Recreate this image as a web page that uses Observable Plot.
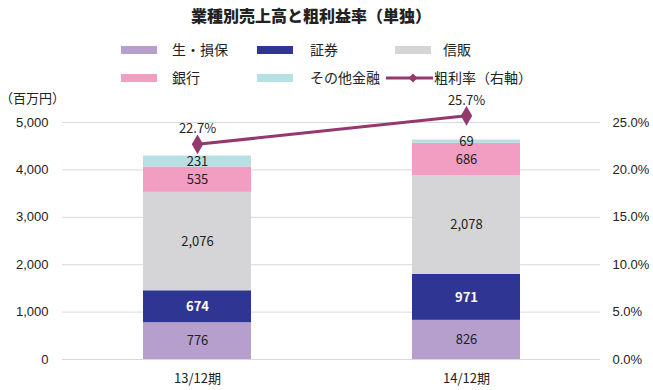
<!DOCTYPE html>
<html>
<head>
<meta charset="utf-8">
<script src="https://cdn.jsdelivr.net/npm/d3@7"></script>
<script src="https://cdn.jsdelivr.net/npm/@observablehq/plot@0.6"></script>
<style>
  html, body { margin: 0; padding: 0; background: #fff; }
  #wrap { position: relative; width: 653px; height: 390px; font-family: "Noto Sans CJK JP", "Noto Sans", sans-serif; color: #222; }
  #wrap svg { position: absolute; left: 0; top: 0; }
  .abs { position: absolute; white-space: nowrap; line-height: 1; }
  .title { font-weight: 900; font-size: 16px; }
  .leg { font-size: 14px; }
  .sw { position: absolute; width: 36px; height: 8px; }
</style>
</head>
<body>
<div id="wrap"></div>
<script>
const periods = ["13/12期", "14/12期"];
const seriesNames = ["生・損保", "証券", "信販", "銀行", "その他金融"];
const seriesColors = ["#b69fcc", "#2e3593", "#d5d5d7", "#f19ec2", "#b7e0e4"];
const lifeNonLife = [776, 826];
const securities = [674, 971];
const shinpan = [2076, 2078];
const banks = [535, 686];
const otherFinance = [231, 69];
const grossMarginPct = [22.7, 25.7];
const yTicks = [0, 1000, 2000, 3000, 4000, 5000];
const pctTicks = [0, 5, 10, 15, 20, 25];
const lineName = "粗利率（右軸）";
const lineColor = "#94386e";
const title = "業種別売上高と粗利益率（単独）";
const unitLabel = "（百万円）";

const seriesValues = [lifeNonLife, securities, shinpan, banks, otherFinance];
const rows = [];
seriesNames.forEach((s, i) => periods.forEach((p, j) => rows.push({period: p, series: s, value: seriesValues[i][j]})));
const yMax = d3.max(yTicks), pMax = d3.max(pctTicks);
const k = yMax / pMax;
const rate = periods.map((p, j) => ({period: p, pct: grossMarginPct[j], yv: grossMarginPct[j] * k}));
const fmt = d3.format(",");
const darkSeries = "証券";

const numFont = "'Liberation Sans', Arial, sans-serif";
const chart = Plot.plot({
  width: 653, height: 390,
  marginTop: 122, marginBottom: 31, marginLeft: 62, marginRight: 53,
  style: {fontFamily: "'Noto Sans CJK JP', sans-serif", fontSize: "13px", color: "#222", background: "transparent"},
  x: {domain: periods, paddingInner: 0.6, paddingOuter: 0.3, axis: null},
  y: {domain: [0, yMax], axis: null},
  color: {domain: seriesNames, range: seriesColors},
  marks: [
    Plot.ruleY(yTicks, {stroke: "#d9d9d9", strokeWidth: 1}),
    Plot.barY(rows, {x: "period", y: "value", fill: "series", order: seriesNames}),
    Plot.text(rows, Plot.stackY({x: "period", y: "value", z: "series", order: seriesNames,
      text: d => d.series === darkSeries ? "" : fmt(d.value), fill: "#222", fontSize: 13})),
    Plot.text(rows, Plot.stackY({x: "period", y: "value", z: "series", order: seriesNames,
      text: d => d.series === darkSeries ? fmt(d.value) : "", fill: "#fff", fontSize: 13, fontWeight: "bold"})),
    Plot.line(rate, {x: "period", y: "yv", stroke: lineColor, strokeWidth: 3}),
    Plot.dot(rate, {x: "period", y: "yv", symbol: "diamond", r: 6, fill: lineColor, stroke: "none"}),
    Plot.text(rate, {x: "period", y: "yv", text: d => d.pct.toFixed(1) + "%", dy: -15, fontSize: 13, fill: "#222"}),
    Plot.axisY(yTicks, {tickSize: 0, tickPadding: 14, tickFormat: fmt, label: null, fontFamily: numFont, fontSize: 13, fill: "#222"}),
    Plot.axisY(pctTicks.map(p => p * k), {anchor: "right", tickSize: 0, tickPadding: 12, tickFormat: d => (d / k).toFixed(1) + "%", label: null, fontFamily: numFont, fontSize: 13, fill: "#222"}),
    Plot.axisX(periods, {tickSize: 0, tickPadding: 14, label: null, fontSize: 13, fill: "#222"})
  ]
});

const wrap = document.getElementById("wrap");
wrap.appendChild(chart);

function addText(txt, cls, left, top, extra) {
  const el = document.createElement("div");
  el.className = "abs " + cls;
  el.textContent = txt;
  el.style.left = left + "px";
  el.style.top = top + "px";
  if (extra) Object.assign(el.style, extra);
  wrap.appendChild(el);
  return el;
}
const t = addText(title, "title", 311, 7);
t.style.transform = "translateX(-50%)";
addText(unitLabel, "leg", 0, 91, {fontSize: "13px"});

const legendPos = [
  {sx: 121, tx: 172, y: 50},
  {sx: 257, tx: 310, y: 50},
  {sx: 395, tx: 443, y: 50},
  {sx: 121, tx: 172, y: 78},
  {sx: 257, tx: 310, y: 78}
];
seriesNames.forEach((s, i) => {
  const p = legendPos[i];
  const sw = document.createElement("div");
  sw.className = "sw";
  sw.style.left = p.sx + "px";
  sw.style.top = (p.y - 4) + "px";
  sw.style.background = seriesColors[i];
  wrap.appendChild(sw);
  addText(s, "leg", p.tx, p.y - 8);
});
// line legend
const ns = "http://www.w3.org/2000/svg";
const ls = document.createElementNS(ns, "svg");
ls.setAttribute("width", 48); ls.setAttribute("height", 12);
ls.style.left = "386px"; ls.style.top = "72px";
const ln = document.createElementNS(ns, "line");
ln.setAttribute("x1", 0); ln.setAttribute("x2", 47); ln.setAttribute("y1", 6); ln.setAttribute("y2", 6);
ln.setAttribute("stroke", lineColor); ln.setAttribute("stroke-width", 3);
ls.appendChild(ln);
const dm = document.createElementNS(ns, "path");
dm.setAttribute("d", "M27,1.5 L31.5,6 L27,10.5 L22.5,6 Z");
dm.setAttribute("fill", lineColor);
ls.appendChild(dm);
wrap.appendChild(ls);
addText(lineName, "leg", 434, 70);
</script>
</body>
</html>
